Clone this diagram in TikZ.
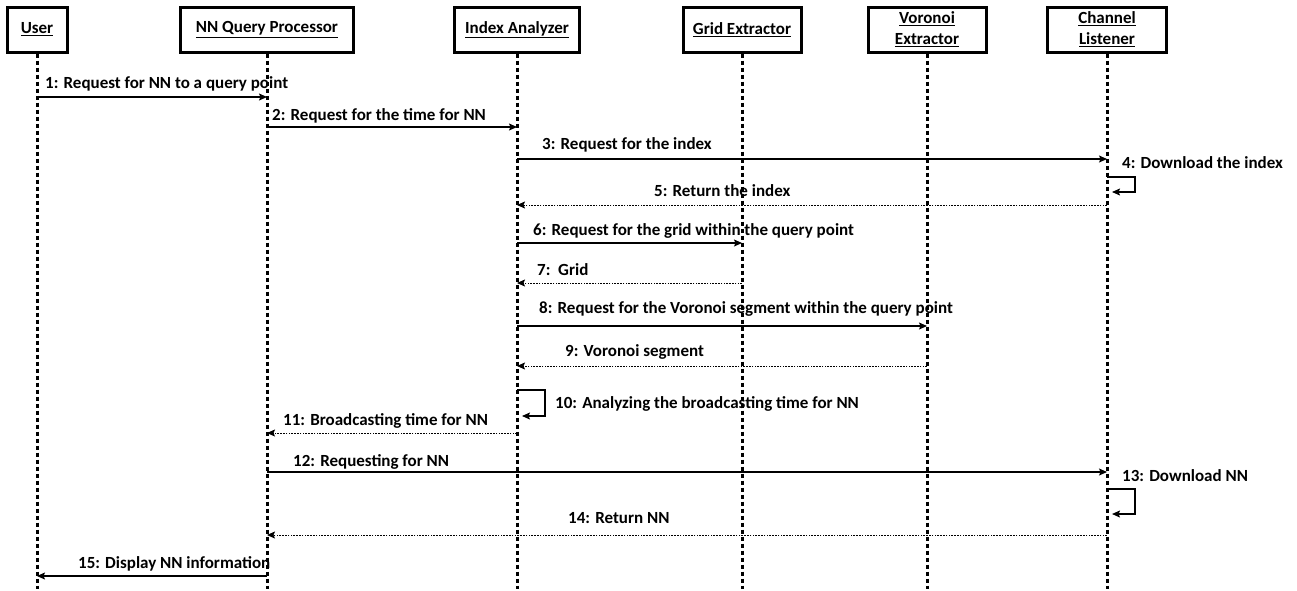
\documentclass[tikz,border=0pt]{standalone}
\usepackage{fontspec}
\setmainfont{Carlito}
\usetikzlibrary{arrows.meta}
\tikzset{
  obj/.style={draw, line width=3pt, inner sep=0pt, font=\fontsize{17}{21}\selectfont\bfseries, align=center, minimum height=45pt},
  life/.style={line width=3pt, dash pattern=on 4.5pt off 2.5pt},
  tip/.style={-{Stealth[length=8pt,width=7pt,inset=1.5pt]}},
  msg/.style={line width=1.2pt, tip},
  ret/.style={line width=1pt, dash pattern=on 1.6pt off 1.2pt, tip},
  lbl/.style={anchor=west, inner sep=0pt, text height=12pt, text depth=3.5pt, font=\fontsize{17}{20}\selectfont\bfseries, yshift=-2pt}
}
\begin{document}
\begin{tikzpicture}[x=1pt,y=-1pt]
\useasboundingbox (0,0) rectangle (1297,590);
% objects
\node[obj, minimum width=60pt]  (user) at (37,29.5)  {\underline{User}};
\node[obj, minimum width=173pt] (nnqp) at (267,29.5) {\underline{NN Query Processor}};
\node[obj, minimum width=125pt] (ia)   at (517,29.5) {\underline{Index Analyzer}};
\node[obj, minimum width=118pt] (ge)   at (742,29.5) {\underline{Grid Extractor}};
\node[obj, minimum width=118pt] (ve)   at (927,29.5) {\underline{Voronoi}\\\underline{Extractor}};
\node[obj, minimum width=119pt] (cl)   at (1107,29.5) {\underline{Channel}\\\underline{Listener}};
\coordinate (bot) at (0,589);
% lifelines
\foreach \n in {user,nnqp,ia,ge,ve,cl}
  \draw[life] (\n.south) -- (\n.south |- bot);
% rows
\coordinate (r1) at (0,97);
\coordinate (r2) at (0,127);
\coordinate (r3) at (0,159);
\coordinate (r4a) at (0,177);
\coordinate (r4b) at (0,192);
\coordinate (r5) at (0,205);
\coordinate (r6) at (0,243);
\coordinate (r7) at (0,283);
\coordinate (r8) at (0,326);
\coordinate (r9) at (0,366);
\coordinate (r10a) at (0,390);
\coordinate (r10b) at (0,416);
\coordinate (r11) at (0,433);
\coordinate (r12) at (0,472);
\coordinate (r13a) at (0,489);
\coordinate (r13b) at (0,514);
\coordinate (r14) at (0,535);
\coordinate (r15) at (0,576);
% messages
\draw[msg] (user |- r1) -- (nnqp |- r1);
\draw[msg] (nnqp |- r2) -- (ia |- r2);
\draw[msg] (ia |- r3) -- (cl |- r3);
\draw[msg] (cl |- r4a) -- ++(28,0) |- ([xshift=5pt]cl |- r4b);
\draw[ret] (cl |- r5) -- (ia |- r5);
\draw[msg] (ia |- r6) -- (ge |- r6);
\draw[ret] (ge |- r7) -- (ia |- r7);
\draw[msg] (ia |- r8) -- (ve |- r8);
\draw[ret] (ve |- r9) -- (ia |- r9);
\draw[msg] (ia |- r10a) -- ++(28,0) |- ([xshift=5pt]ia |- r10b);
\draw[ret] (ia |- r11) -- (nnqp |- r11);
\draw[msg] (nnqp |- r12) -- (cl |- r12);
\draw[msg] (cl |- r13a) -- ++(28,0) |- ([xshift=5pt]cl |- r13b);
\draw[ret] (cl |- r14) -- (nnqp |- r14);
\draw[msg] (nnqp |- r15) -- (user |- r15);
% labels
\node[lbl] (l1) at (45,82) {1: Request for NN to a query point};
\node[lbl] (l2) at (272,114) {2: Request for the time for NN};
\node[lbl] (l3) at (542,143) {3: Request for the index};
\node[lbl] (l4) at (1122,162) {4: Download the index};
\node[lbl] (l5) at (654,190) {5: Return the index};
\node[lbl] (l6) at (533,229) {6: Request for the grid within the query point};
\node[lbl] (l7) at (537,269) {7:\ \ Grid};
\node[lbl] (l8) at (539,307) {8: Request for the Voronoi segment within the query point};
\node[lbl] (l9) at (565,350) {9: Voronoi segment};
\node[lbl] (l10) at (555,402) {10: Analyzing the broadcasting time for NN};
\node[lbl] (l11) at (283,419) {11: Broadcasting time for NN};
\node[lbl] (l12) at (293,460) {12: Requesting for NN};
\node[lbl] (l13) at (1122,475) {13: Download NN};
\node[lbl] (l14) at (568,517) {14: Return NN};
\node[lbl] (l15) at (78,562) {15: Display NN information};
\end{tikzpicture}
\end{document}
